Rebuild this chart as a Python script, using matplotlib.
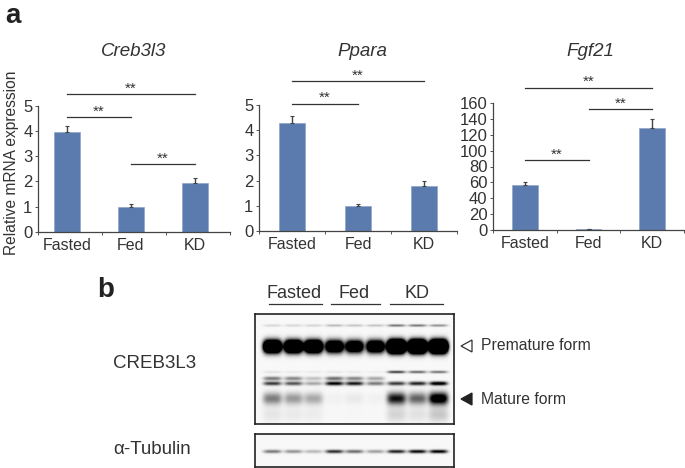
import numpy as np
import matplotlib
matplotlib.use("Agg")
import matplotlib.pyplot as plt
from matplotlib.patches import Polygon

plt.rcParams["font.family"] = ["Liberation Sans", "DejaVu Sans"]

W, H = 685, 468
DARK = "#333333"
BAR = "#5B7BAE"

groups = ["Fasted", "Fed", "KD"]

creb_vals = [3.97, 1.0, 1.95]
creb_err = [0.22, 0.12, 0.17]
creb_ticks = [0, 1, 2, 3, 4, 5]
# start group, end group, height
creb_sig = [(0, 2, 5.45), (0, 1, 4.55), (1, 2, 2.69)]

ppara_vals = [4.27, 1.0, 1.78]
ppara_err = [0.28, 0.08, 0.2]
ppara_ticks = [0, 1, 2, 3, 4, 5]
ppara_sig = [(0, 2, 5.95), (0, 1, 5.04)]

fgf_vals = [57, 1, 129]
fgf_err = [4, 0.8, 11]
fgf_ticks = [0, 20, 40, 60, 80, 100, 120, 140, 160]
fgf_sig = [(0, 2, 179), (1, 2, 152), (0, 1, 88)]

# band strength per lane (9 lanes: 3 fasted, 3 fed, 3 KD)
band_top = [0.13, 0.13, 0.14, 0.24, 0.2, 0.2, 0.5, 0.5, 0.4]
band_main = [3.0, 3.0, 3.0, 2.2, 2.0, 2.2, 4.5, 4.5, 4.5]
band_kd = [0.08, 0.05, 0.05, 0.06, 0.05, 0.04, 0.7, 0.55, 0.5]
band_upper = [0.5, 0.45, 0.22, 0.55, 0.45, 0.32, 0.0, 0.0, 0.0]
band_mid = [0.75, 0.65, 0.32, 1.0, 0.9, 0.5, 0.75, 0.85, 1.1]
band_mature = [0.5, 0.38, 0.32, 0.03, 0.06, 0.03, 0.95, 0.6, 1.3]
band_tubulin = [0.5, 0.4, 0.25, 0.8, 0.55, 0.35, 0.85, 0.95, 1.0]


def px_axes(fig, left, right, top, bottom):
    return fig.add_axes([left / W, 1 - bottom / H, (right - left) / W, (bottom - top) / H])


def bar_panel(fig, box, vals, errs, ticks, sig, title, title_x, shift=0.0):
    ax = px_axes(fig, *box)
    xs = np.arange(3) + 0.5 + shift
    ax.bar(xs, vals, width=0.4, color=BAR, edgecolor="#8EA5C8", linewidth=0.5,
           yerr=[np.zeros(3), errs], ecolor="#444444",
           error_kw={"elinewidth": 1, "capsize": 1.2, "capthick": 0.8})
    ax.set_xlim(0, 3)
    ax.set_ylim(ticks[0], ticks[-1])
    ax.set_yticks(ticks)
    ax.set_xticks([0, 1, 2, 3])
    ax.set_xticklabels([])
    ax.set_xticks(xs, minor=True)
    ax.set_xticklabels(groups, minor=True, fontsize=11.5, color=DARK)
    ax.tick_params(axis="x", which="minor", length=0, pad=4)
    ax.tick_params(axis="x", which="major", length=2, width=0.7, color="#555555")
    ax.tick_params(axis="y", length=2, width=0.7, color="#555555", labelsize=12,
                   labelcolor=DARK, pad=2)
    for side in ["top", "right"]:
        ax.spines[side].set_visible(False)
    for side in ["left", "bottom"]:
        ax.spines[side].set_color("#444444")
        ax.spines[side].set_linewidth(0.9)
    span = ticks[-1] - ticks[0]
    for a, b, h in sig:
        ax.plot([xs[a], xs[b]], [h, h], color="#333333", lw=0.9, clip_on=False)
        ax.text((xs[a] + xs[b]) / 2, h - span * 0.01, "**", ha="center", va="bottom",
                fontsize=11, color=DARK, clip_on=False)
    fig.text(title_x / W, 1 - 52 / H, title, style="italic", fontsize=13.5,
             color=DARK, ha="center", va="center")
    return ax


def gel(shape, lanes, rows):
    h, w = shape
    yy, xx = np.mgrid[0:h, 0:w]
    img = np.zeros(shape)
    for strengths, y0, sx, sy in rows:
        for cx, s in zip(lanes, strengths):
            img += s * np.exp(-((xx - cx) / sx) ** 4 - ((yy - y0) / sy) ** 2)
    return np.clip(img, 0, 1)


fig = plt.figure(figsize=(W / 100, H / 100), dpi=100)

bar_panel(fig, (38, 230, 105.7, 232), creb_vals, creb_err, creb_ticks, creb_sig,
          "Creb3l3", 134, shift=-0.05)
bar_panel(fig, (259, 457, 105, 231), ppara_vals, ppara_err, ppara_ticks, ppara_sig,
          "Ppara", 362)
bar_panel(fig, (493, 684, 103, 230), fgf_vals, fgf_err, fgf_ticks, fgf_sig,
          "Fgf21", 590)

fig.text(12 / W, 1 - 162.5 / H, "Relative mRNA expression", rotation=90, fontsize=11.2,
         color=DARK, ha="center", va="center")

# western blot panels
lanes = [17, 38, 58, 79, 99, 120, 141, 162, 183]
main_rows = [
    (band_top, 11, 9, 1.3),
    (band_main, 32, 9, 6),
    (band_kd, 57.5, 9, 1.4),
    (band_upper, 64, 9, 2),
    (band_mid, 69, 9, 2),
    (band_mature, 84, 9.5, 6),
    ([v * 0.15 for v in band_mature], 100, 10, 8),
]
ax_blot = px_axes(fig, 255, 454, 314, 424)
ax_blot.imshow(gel((110, 199), lanes, main_rows), cmap="gray_r", vmin=-0.03, vmax=1,
               aspect="auto", interpolation="bilinear")
ax_tub = px_axes(fig, 255, 454, 434, 467)
ax_tub.imshow(gel((33, 199), lanes, [(band_tubulin, 17, 9, 1.8)]), cmap="gray_r",
              vmin=-0.03, vmax=1, aspect="auto", interpolation="bilinear")
for ax in [ax_blot, ax_tub]:
    ax.set_xticks([])
    ax.set_yticks([])
    for s in ax.spines.values():
        s.set_linewidth(1.2)
        s.set_color("#222222")

# overlay in pixel coordinates for labels outside the axes
ov = fig.add_axes([0, 0, 1, 1], facecolor="none")
ov.set_xlim(0, W)
ov.set_ylim(H, 0)
ov.axis("off")

ov.text(13, 16, "a", fontsize=20, fontweight="bold", color="#222222", ha="center", va="center")
ov.text(106, 290, "b", fontsize=20, fontweight="bold", color="#222222", ha="center", va="center")

for name, tx, x0, x1 in [("Fasted", 294, 269, 322), ("Fed", 354, 331, 380), ("KD", 417, 390, 443)]:
    ov.text(tx, 293, name, fontsize=13, color=DARK, ha="center", va="center")
    ov.plot([x0, x1], [304, 304], color="#333333", lw=0.9)

ov.text(113, 363, "CREB3L3", fontsize=13.5, color=DARK, ha="left", va="center")
ov.text(113, 449, "α-Tubulin", fontsize=13.5, color=DARK, ha="left", va="center")
ov.text(481, 346, "Premature form", fontsize=11.3, color=DARK, ha="left", va="center")
ov.text(481, 399, "Mature form", fontsize=11.3, color=DARK, ha="left", va="center")
ov.add_patch(Polygon([[461, 346], [472, 340], [472, 352]], closed=True, fc="white",
                     ec="#333333", lw=0.9))
ov.add_patch(Polygon([[461, 399], [472, 393], [472, 405]], closed=True, fc="#222222",
                     ec="#222222", lw=0.9))

fig.savefig("out.png", dpi=100)
plt.close(fig)
